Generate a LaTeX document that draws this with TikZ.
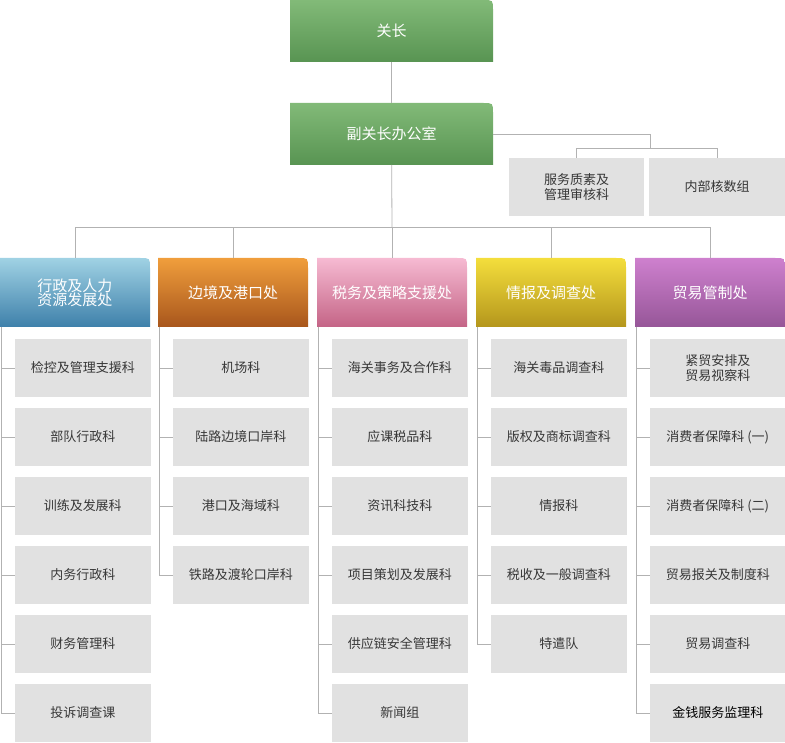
\documentclass[tikz,border=0pt]{standalone}
\usepackage{fontspec}
\setmainfont{Noto Sans CJK SC}
\usetikzlibrary{positioning}
\definecolor{linegray}{RGB}{178,178,178}
\definecolor{boxgray}{RGB}{225,225,225}
\definecolor{txtgray}{RGB}{55,55,55}
\definecolor{greentop}{RGB}{130,186,120}
\definecolor{greenbot}{RGB}{88,148,82}
\definecolor{bluetop}{RGB}{160,210,228}
\definecolor{bluebot}{RGB}{62,128,170}
\definecolor{orangetop}{RGB}{240,158,60}
\definecolor{orangebot}{RGB}{168,86,28}
\definecolor{pinktop}{RGB}{246,186,210}
\definecolor{pinkbot}{RGB}{196,100,134}
\definecolor{yellowtop}{RGB}{244,222,60}
\definecolor{yellowbot}{RGB}{180,150,28}
\definecolor{purpletop}{RGB}{206,128,206}
\definecolor{purplebot}{RGB}{150,86,152}
% shaded panel with one rounded corner: x, y, width, height, colour
\newcommand{\panel}[5]{%
  \shade[top color=#5top,bottom color=#5bot]
    (#1,#2+#4) -- (#1,#2) -- (#1+#3-10,#2) .. controls (#1+#3,#2) .. (#1+#3,#2+10)
    -- (#1+#3,#2+#4) -- cycle;}
\begin{document}
\begin{tikzpicture}[x=1pt,y=-1pt,inner sep=0pt,outer sep=0pt,
link/.style={draw=linegray,line width=0.8pt},
toptext/.style={text=white,minimum width=203pt,minimum height=62pt,font=\fontsize{15}{16}\selectfont},
headtext/.style={text=white,align=center,minimum width=150pt,minimum height=69pt,font=\fontsize{15}{14}\selectfont},
unitbox/.style={fill=boxgray,minimum width=135.5pt,minimum height=58pt,align=center,text=txtgray,font=\fontsize{13}{15}\selectfont}]
\useasboundingbox (0,0) rectangle (785,743);
% top of the tree
\panel{290}{0}{203}{62}{green}
\node[toptext] (chief) at (391.5,31) {关长};
\panel{290}{103}{203}{62}{green}
\node[toptext] (deputy) at (391.5,134) {副关长办公室};
\draw[link] (chief) -- (deputy);
\node[unitbox] (qa) at (576.5,187) {服务质素及\\管理审核科};
\node[unitbox] (audit) at (717,187) {内部核数组};
\coordinate (sbus) at (650,148);
\draw[link] (deputy.east) -| (sbus);
\draw[link] (qa.north) -- ++(0,-10) -| (audit.north);
\coordinate (mbus) at (392,227);
\draw[link] (deputy) -- (mbus);
% divisions and their units
\foreach \x/\hue/\head/\units [count=\i] in {
  0/blue/{行政及人力\\资源发展处}/{检控及管理支援科,部队行政科,训练及发展科,内务行政科,财务管理科,投诉调查课},
  158/orange/{边境及港口处}/{机场科,陆路边境口岸科,港口及海域科,铁路及渡轮口岸科},
  317/pink/{税务及策略支援处}/{海关事务及合作科,应课税品科,资讯科技科,项目策划及发展科,供应链安全管理科,新闻组},
  476/yellow/{情报及调查处}/{海关毒品调查科,版权及商标调查科,情报科,税收及一般调查科,特遣队},
  635/purple/{贸易管制处}/{紧贸安排及\\贸易视察科,消费者保障科 (一),消费者保障科 (二),贸易报关及制度科,贸易调查科,{\color{black}金钱服务监理科}}}{
  \panel{\x}{258}{150}{69}{\hue}
  \node[headtext] (h\i) at (\x+75,292.5) {\head};
  \draw[link] (h\i.north) |- (mbus);
  \foreach \t [count=\j] in \units {
    \node[unitbox] (u\i-\j) at (\x+82.75,368+69*\j-69) {\t};
    \draw[link] (h\i.south west) ++(1,0) |- (u\i-\j.west);
  }
}
\end{tikzpicture}
\end{document}
